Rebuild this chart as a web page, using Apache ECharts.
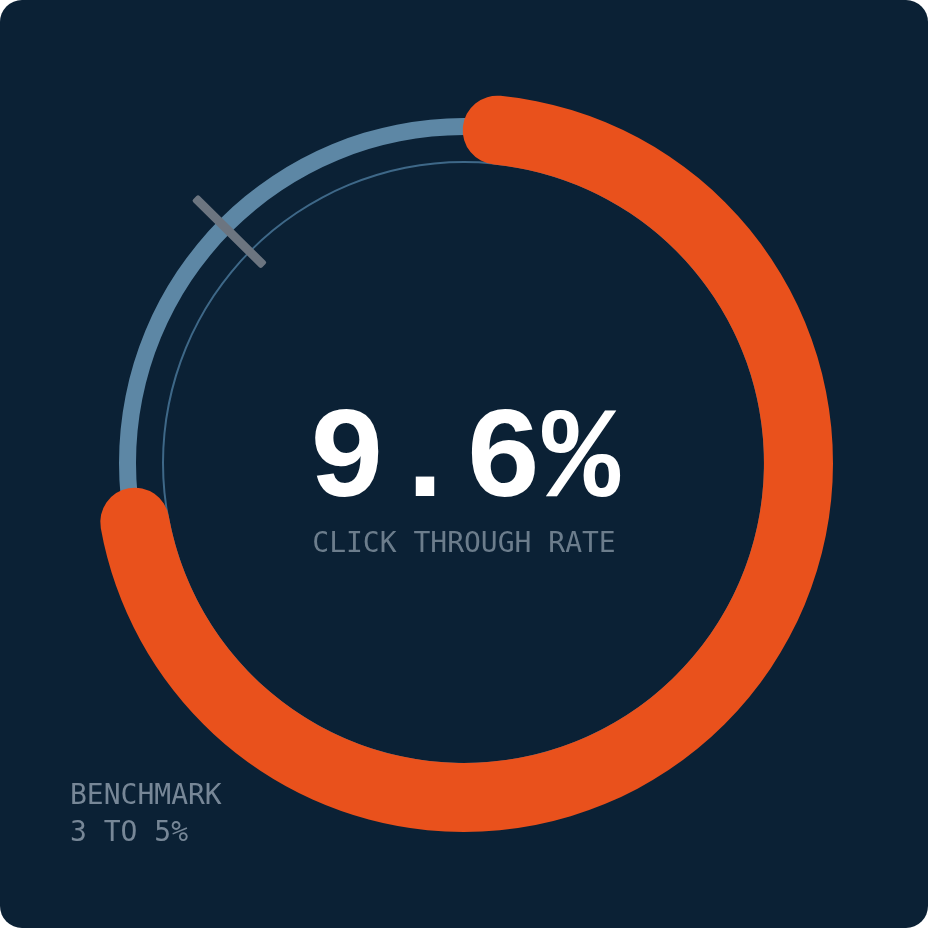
<!DOCTYPE html>
<html>
<head>
<meta charset="utf-8">
<script src="https://cdn.jsdelivr.net/npm/echarts@6/dist/echarts.min.js"></script>
<style>
  html, body { margin: 0; padding: 0; background: #ffffff; }
  #chart { width: 928px; height: 928px; background: #0b2135; border-radius: 22px; overflow: hidden; }
</style>
</head>
<body>
<div id="chart"></div>
<script>
// ---- data ----
const metricName = 'CLICK THROUGH RATE';
const metricValue = 9.6;           // percent
const scaleMax = 13.6;             // full circle of the gauge scale
const benchmarkLabel = 'BENCHMARK';
const benchmarkRange = [3, 5];     // percent
const benchmarkMarkerAngle = 314.6; // degrees clockwise from 12 o'clock

// ---- layout / style ----
const C = [464, 463];
const mono = "'DejaVu Sans Mono', 'Liberation Mono', monospace";
const monoBold = "'Liberation Mono', 'DejaVu Sans Mono', monospace";
const blank = {
  pointer: { show: false }, anchor: { show: false },
  axisTick: { show: false }, splitLine: { show: false }, axisLabel: { show: false },
  detail: { show: false }, title: { show: false }
};

const chart = echarts.init(document.getElementById('chart'), null, { renderer: 'canvas' });
chart.setOption({
  backgroundColor: 'transparent',
  animation: false,
  title: {
    left: 65, top: 773,
    text: benchmarkLabel + '\n' + benchmarkRange[0] + ' TO ' + benchmarkRange[1] + '%',
    textStyle: { fontFamily: mono, fontSize: 28, fontWeight: 'normal', color: '#778797', lineHeight: 37 }
  },
  series: [
    Object.assign({}, blank, {
      type: 'gauge', center: C, radius: 302,
      startAngle: 90, endAngle: -270, min: 0, max: scaleMax,
      axisLine: { lineStyle: { width: 2, color: [[1, '#3e6888']] } },
      data: [{ value: 0 }]
    }),
    Object.assign({}, blank, {
      type: 'gauge', center: C, radius: 345,
      startAngle: 90, endAngle: -270, min: 0, max: scaleMax,
      axisLine: { lineStyle: { width: 17, color: [[1, '#5d87a5']] } },
      data: [{ value: 0 }]
    }),
    Object.assign({}, blank, {
      type: 'gauge', center: C, radius: 387,
      startAngle: 90, endAngle: -270, min: 0, max: 360,
      axisLine: { show: false },
      pointer: {
        show: true, icon: 'roundRect', width: 9, length: 97,
        offsetCenter: [0, -281],
        itemStyle: { color: '#6c7580' }
      },
      data: [{ value: benchmarkMarkerAngle }]
    }),
    Object.assign({}, blank, {
      type: 'gauge', center: C, radius: 369,
      startAngle: 84.3, endAngle: 84.3 - 360, clockwise: true,
      min: 0, max: scaleMax,
      axisLine: { show: false },
      progress: { show: true, width: 69, roundCap: true, itemStyle: { color: '#e9511c' } },
      detail: {
        show: true, offsetCenter: [0, 0], valueAnimation: false,
        formatter: '{value}%',
        fontFamily: monoBold, fontSize: 130, fontWeight: 'bold', color: '#ffffff'
      },
      title: {
        show: true, offsetCenter: [0, 82],
        fontFamily: mono, fontSize: 28, color: '#6c7d8c'
      },
      data: [{ value: metricValue, name: metricName }]
    })
  ]
});
</script>
</body>
</html>
